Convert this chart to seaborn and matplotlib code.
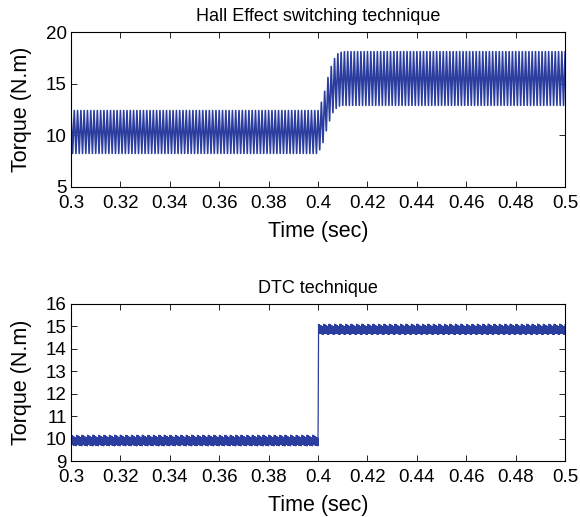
import numpy as np
import pandas as pd
import matplotlib
matplotlib.use("Agg")
import matplotlib.pyplot as plt
import seaborn as sns

# ---- Hall effect switching: torque ripple envelope (N.m) ----
hall_knot_t = [0.300, 0.400, 0.402, 0.404, 0.406, 0.408, 0.410, 0.500]
hall_upper = [12.4, 12.4, 13.6, 15.6, 17.2, 17.9, 18.1, 18.1]
hall_lower = [8.25, 8.25, 9.3, 11.0, 12.2, 12.8, 12.9, 12.9]
hall_cycles = 150          # ripple cycles between 0.3 s and 0.5 s

# ---- DTC: torque band (N.m) ----
dtc_knot_t = [0.300, 0.400, 0.4002, 0.500]
dtc_upper = [10.15, 10.15, 15.10, 15.10]
dtc_lower = [9.68, 9.68, 14.65, 14.65]
dtc_teeth = 90             # visible sawtooth teeth over the window
dtc_tooth_depth = 0.16

x_ticks = [0.3, 0.32, 0.34, 0.36, 0.38, 0.4, 0.42, 0.44, 0.46, 0.48, 0.5]
x_tick_labels = ["0.3", "0.32", "0.34", "0.36", "0.38", "0.4",
                 "0.42", "0.44", "0.46", "0.48", "0.5"]
hall_y_ticks = [5, 10, 15, 20]
dtc_y_ticks = [9, 10, 11, 12, 13, 14, 15, 16]

line_color = "#2b3d9f"

# Zig-zag between the envelopes, one peak per half cycle
t0, t1 = 0.3, 0.5
peaks_t = np.linspace(t0, t1, 2 * hall_cycles + 1)
up = np.interp(peaks_t, hall_knot_t, hall_upper)
lo = np.interp(peaks_t, hall_knot_t, hall_lower)
hall_y = np.where(np.arange(peaks_t.size) % 2 == 0, up, lo)
hall_df = pd.DataFrame({"Time": peaks_t, "Torque": hall_y})

# DTC: fast switching inside a band whose edges carry small teeth
fast_t = np.linspace(t0, t1, 4001)
tooth_phase = ((fast_t - t0) * dtc_teeth / (t1 - t0)) % 1.0
band_up = np.interp(fast_t, dtc_knot_t, dtc_upper) - dtc_tooth_depth * tooth_phase
band_lo = np.interp(fast_t, dtc_knot_t, dtc_lower) + 0.5 * dtc_tooth_depth * (1 - tooth_phase)
dtc_y = np.where(np.arange(fast_t.size) % 2 == 0, band_up, band_lo)
dtc_df = pd.DataFrame({"Time": fast_t, "Torque": dtc_y})

sns.set_theme(style="white")
plt.rcParams["font.family"] = ["Liberation Sans", "DejaVu Sans"]
plt.rcParams["text.color"] = "black"
plt.rcParams["axes.labelcolor"] = "black"

fig = plt.figure(figsize=(5.8, 5.17), dpi=100)
ax1 = fig.add_axes([0.1224, 0.6383, 0.852, 0.2998])
ax2 = fig.add_axes([0.1224, 0.1083, 0.852, 0.3037])

sns.lineplot(data=hall_df, x="Time", y="Torque", ax=ax1, color=line_color,
             linewidth=1.2, estimator=None, sort=False)
sns.lineplot(data=dtc_df, x="Time", y="Torque", ax=ax2, color=line_color,
             linewidth=0.9, estimator=None, sort=False)

for ax, yt, ylim, title in [
    (ax1, hall_y_ticks, (5, 20), "Hall Effect switching technique"),
    (ax2, dtc_y_ticks, (9, 16), "DTC technique"),
]:
    ax.set_xlim(t0, t1)
    ax.set_ylim(*ylim)
    ax.set_xticks(x_ticks)
    ax.set_xticklabels(x_tick_labels)
    ax.set_yticks(yt)
    ax.set_yticklabels([str(v) for v in yt])
    ax.set_xlabel("Time (sec)", fontsize=15.5, labelpad=6, color="black")
    ax.set_ylabel("Torque (N.m)", fontsize=15.5, labelpad=10, color="black")
    ax.set_title(title, fontsize=13, pad=8, color="black")
    ax.tick_params(axis="both", which="both", direction="in", length=4,
                   width=0.6, colors="black", labelsize=13.5,
                   top=True, right=True, bottom=True, left=True, pad=3)
    ax.tick_params(axis="x", pad=6)
    for side in ax.spines.values():
        side.set_visible(True)
        side.set_color("black")
        side.set_linewidth(0.8)

fig.savefig("out.png", dpi=100, facecolor="white")
